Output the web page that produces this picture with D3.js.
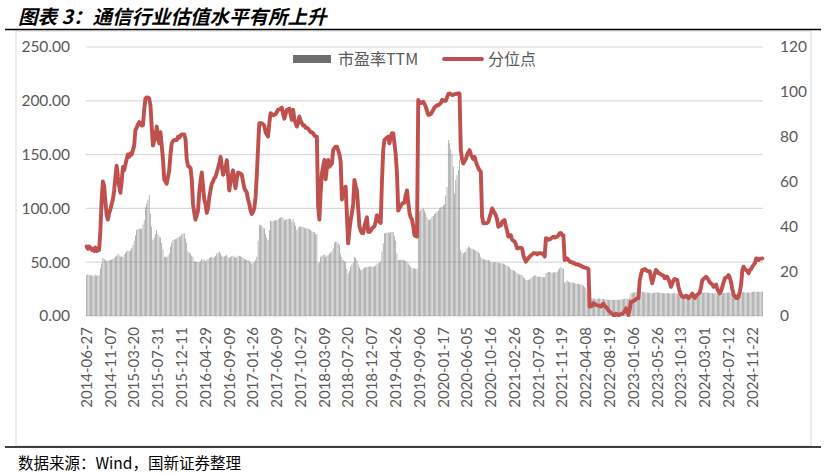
<!DOCTYPE html>
<html><head><meta charset="utf-8">
<script src="https://cdn.jsdelivr.net/npm/d3@7"></script>
<style>
html,body{margin:0;padding:0;background:#fff;}
svg{display:block;}
</style></head>
<body>
<svg id="chart" width="827" height="475"></svg>
<script>
const titleText = "图表 3：通信行业估值水平有所上升";
const sourceText = "数据来源：Wind，国新证券整理";
const seriesNames = ["市盈率TTM", "分位点"];
const tickLabels = ["2014-06-27","2014-11-07","2015-03-20","2015-07-31","2015-12-11","2016-04-29","2016-09-09","2017-01-26","2017-06-09","2017-10-27","2018-03-09","2018-07-20","2018-12-07","2019-04-26","2019-09-06","2020-01-17","2020-06-05","2020-10-16","2021-02-26","2021-07-09","2021-11-19","2022-04-08","2022-08-19","2023-01-06","2023-05-26","2023-10-13","2024-03-01","2024-07-12","2024-11-22"];
const tickEvery = 19;
const leftTicks = [0,50,100,150,200,250];
const rightTicks = [0,20,40,60,80,100,120];

// weekly PE TTM (left axis)
const peValues = [
38,39,38,38,37.5,38,37,38.5,37.5,37.8,38,44,
49,54,53,52,51,51,52,52,52.5,53,54,55,
56,58,56.5,55,56,55,57,58.5,60,61,60,61,
63,66,70,75,80,80.5,81.5,81.2,81,85,89,101,104.5,
108,112.5,95,83,71,73,76,80,76,73.7,73,68,
62,55,55,54.5,56,58,64.4,68,70.6,71,71.5,72,
73,73.7,74,76,76.5,77,72,68,60,59,58,56,
55,51,50.5,50.2,50,50,51,53,52.5,52,50.5,52,
53,54,54.5,55,54,55,56,58,59,60,58,56,
55,55.5,56,57,55,54,55,55.5,56,55,54,55,
56,55.8,55.5,55,54,53,52.5,52,52,51,50,48.6,49.3,
50,52,55,70,84.6,84.3,84,82,81.5,76,73,70.6,
80,89,88,88.5,88.8,89,89,90,91,91.5,92,91,
89,89.5,90,90.2,90.5,90,88,90,87,84,80,82,
83,83,82.8,82.5,82,81,82,81,80.5,80,79,78,
78,76,76,49,50,55,56,56.5,57,55,56,57,
58,59,60,63,68,69,69,67.5,66,58,55,52,51,
50,44,39.7,42,45.8,48,50,55,54,52,48,45,
43,42.8,44,45,45.2,45.5,45.8,46,46,46,46,46,
47,48,49,49.8,50.5,60,67.6,76.9,77,77.5,78,77,
78,78.3,78,74,70,58,52,52,52.2,52.5,52,52,
51,50.5,48.8,47,45.8,44.5,44.3,44,44,44,95.4,97,
98.5,99.2,100,98,95.4,92,89,89.5,90,92.3,93,95,96,
97,98,100,101,101.6,102.8,104,112,120,163.6,160.5,155,
150,138.8,114,126.4,131,135.7,145,61.3,59,58,59,60,
63,64.4,64,63,62.5,62,61.3,61,60,59,58,55,
53.6,53,52.5,52.2,52,52,51.5,50,50,50,50,50,
49.5,49.5,49.2,49,49,48.5,48,47.4,46.7,46,45,43.5,
42.8,42.4,42,41,39.7,39,38.5,38.2,38,36,35,33.5,
33.5,33.7,34,35,36,37,37.5,38,36.5,36.5,36.5,36.5,36.2,
36,36,40,40.5,41,40.8,40.5,40,41,40.5,40.7,41,
43,44.3,45.6,44,44,31,32,33,32,31.5,31.2,31,
31,30.5,30,30,30,29.5,29.5,29,28,27,25.7,22,
18,16.4,16.2,16,16.2,16,15.8,16,16.2,16.4,16,15.8,
16,15.5,15.3,15.2,15,15,15,15.1,15.2,15,15.1,15,
15,15.1,15.2,15.4,15.6,16,16.2,15.8,15.5,17,21,21.5,21.7,
22,22.4,22.6,22.8,22.6,22.6,22.5,22.4,22,22,21.8,21.6,
21.5,21.2,21,21.5,21.8,22,22,21.8,21.6,21.4,21.3,21.2,
21,21.2,21.5,21.2,21,20.8,21,21.2,21.3,21.1,21,20.5,
20.5,20.4,20.2,20.2,20.3,20.5,20.4,20.2,20.3,20.5,20.6,20.5,
20.3,20.5,20.6,20.6,20.8,21.2,21.6,21.8,21.9,22,21.8,21.6,
21.4,21.3,21.2,21,21,21.2,20.8,20.6,20.5,20.8,21,21.4,
21.6,21.7,21.8,22,21.8,21.4,21,20.6,20.5,20.4,20.5,20.6,21,
21.5,22,22.2,22,21.9,21.8,21.8,22,22.2,22.4,22.5,22.6,
22.6,22.4,22.5,22.6,22.6,22.6
];

// weekly percentile (right axis)
const pctValues = [
31,30,31,30.5,29.5,30,29,30.5,29,29.2,29.5,38,
52,60,58,51,45,43,46,47.5,50,52,56,62,
67,62,58,55,60,66.5,65,67.5,70,72,71,72.5,
72,74,76,83,84,85.5,86.5,86,85,85,92,97,97.5,
97.5,97,94,84.5,76,78,80,84.5,80,77,82,76,
70,61,60,59,62,65,72,77,78,78.5,78.5,78.5,
80,79.5,80.5,81,81,81,79,70,67,66.5,66,61,
50,46,43,45,47,55,60,64,58,52,50,46,
48,53,56,59,60,61.5,62,64,66,68,71,67,
63,64.5,66,69.5,63,56,60,62.5,65,60,57,61,
64,63.8,63.5,63,60,57,56,55,52,50,47,45.5,46.5,
48,53,63,75,86,86,86,85.5,85,82,81,80,
86,90.5,90,89.5,89.8,90,91,92,92.2,92.5,93,90,
88,90,92,92.2,92.5,90,87.5,92,88,86,84.5,86,
89,87,86,85,85,84,84,83.5,82.8,82,82,81.5,
80.5,80,80,49,43,55,63.6,66.5,69.6,61,66,69.6,
66.6,67.3,68,74,75,75.5,75.5,74,72,69,52,55,56.3,
57.7,45,32.4,38,42.8,46,50,60.7,58,56,48,40,
38,37,37,40,42,44,37.6,37.5,38,39,39.5,40,
42,45,43,42,41.5,60,74,78.5,79,79.5,80,77,
80,81.5,81.5,77,72,63.6,47,48,49,50,50.5,50.5,
54,56,51,46,44,43,40,36,35.7,35.4,96.4,95.5,
95,95.3,95.6,94.5,93.4,91.5,89.7,89.8,90,91,92,93,93.5,
94,94,94.5,95,96.4,96.2,96,96,97.5,99,99.3,99,
98.6,98.6,99,99,99.2,99.3,99.3,74,70,68,69,70,
71.8,73,74,72,71,70,71,69,67.4,66,65,64.4,
44.3,41.4,41.4,41.4,41.5,42,44,45.8,48,47,46,45,
43,39.8,40.2,40.5,42,42.5,42.8,40,38,35.4,36,36,
34,33.6,33.2,32,30.2,30.2,30.5,30.4,30.2,27,25.5,24.2,
25,25.8,26.5,27,27.5,28,28,28,27.5,28,28,28,27.8,
27.5,26.5,34.7,34.5,34,34.2,34.5,35,35.4,35,35.2,35.4,
36,36.9,37,36,36,25,25.5,25.7,25,24.2,24.1,24,
23.5,23.5,23,23,23,22.5,22.5,22,21.8,21.6,21.5,21.3,
21,4.2,4.3,4.5,5.7,5.5,5,4.8,4.6,4.5,4.2,5,
5.5,4.5,4,3.4,2.5,1.9,1.4,1,0.4,0.4,1,0.8,
0.4,0.6,0.8,1,1.5,2,3.4,2,0.4,3,6.4,6.5,6.8,
7,7.5,7.9,8,16,18.5,20.5,20.5,21,20.5,20,20,
20,17,14.6,17,19,20.5,20,19,19,18.5,18.2,18,
16.8,17.5,17.5,16.2,15,13,14.5,16,16.5,16.2,16,13,
10.8,9.5,8.6,8.5,8.5,9,8.5,7.9,8.5,9,10,9,
8,9,9.5,10,10.5,13,16,16.5,17,17.5,17,16,
15,14.5,14,13,13.5,14,12,11,10.1,11,13,15,
16.8,17.2,17.5,18.3,17,15,12,9.4,9,8,8,8.5,11,
14,20.5,22,21,20.5,20,19,20.5,21,22,22.8,23.5,
25.7,25.5,25,25.5,25.6,25.7
];

const N = peValues.length;
const idx = d3.range(N);
const tickIdx = tickLabels.map((d,k)=>k*tickEvery);

const svg = d3.select("#chart");
const plot = {left:86, right:763, top:47, bottom:316};
const numFont = "Lato, 'Open Sans', sans-serif";
const cjkFont = "'Noto Sans CJK SC', sans-serif";
const textGrey = "#595959";

// frame
svg.append("rect").attr("x",16).attr("y",31).attr("width",795).attr("height",415)
  .attr("fill","none").attr("stroke","#d9d9d9").attr("stroke-width",1);

// title
svg.append("text").attr("x",18).attr("y",23.5)
  .attr("font-family",cjkFont).attr("font-size",19.5).attr("font-weight","bold")
  .attr("font-style","italic").attr("fill","#000").text(titleText);
svg.append("line").attr("x1",5).attr("x2",821).attr("y1",29.5).attr("y2",29.5)
  .attr("stroke","#000").attr("stroke-width",1.3);

// bottom line & source
svg.append("line").attr("x1",5).attr("x2",821).attr("y1",447).attr("y2",447)
  .attr("stroke","#000").attr("stroke-width",1.3);
svg.append("text").attr("x",18).attr("y",469)
  .attr("font-family",cjkFont).attr("font-size",15.5).attr("fill","#000").text(sourceText);

// scales
const x = d3.scaleBand().domain(idx).range([plot.left, plot.right]).padding(0);
const xc = i => x(i) + x.bandwidth()/2;
const yL = d3.scaleLinear().domain([0,250]).range([plot.bottom, plot.top]);
const yR = d3.scaleLinear().domain([0,120]).range([plot.bottom, plot.top]);

// gridlines
svg.append("g").selectAll("line").data(leftTicks).join("line")
  .attr("x1",plot.left).attr("x2",plot.right)
  .attr("y1",d=>yL(d)).attr("y2",d=>yL(d))
  .attr("stroke","#d9d9d9").attr("stroke-width",1.2);

// bars
const bw = x.bandwidth()*0.5;
svg.append("g").selectAll("rect").data(idx).join("rect")
  .attr("x", i => xc(i) - bw/2)
  .attr("width", bw)
  .attr("y", i => yL(peValues[i]))
  .attr("height", i => yL(0) - yL(peValues[i]))
  .attr("fill", "#8a8a8a");

// line
const line = d3.line().x(i=>xc(i)).y(i=>yR(pctValues[i]));
svg.append("path").datum(idx).attr("d",line)
  .attr("fill","none").attr("stroke","#c0504d").attr("stroke-width",3.9)
  .attr("stroke-linejoin","round").attr("stroke-linecap","round");

// left axis
const gL = svg.append("g").attr("transform",`translate(${plot.left},0)`)
  .call(d3.axisLeft(yL).tickValues(leftTicks).tickFormat(d3.format(".2f")).tickSize(0).tickPadding(16));
gL.select(".domain").remove();
gL.selectAll("text").attr("font-family",numFont).attr("font-size",15.5).attr("fill",textGrey);

// right axis
const gR = svg.append("g").attr("transform",`translate(${plot.right},0)`)
  .call(d3.axisRight(yR).tickValues(rightTicks).tickSize(0).tickPadding(17));
gR.select(".domain").remove();
gR.selectAll("text").attr("font-family",numFont).attr("font-size",15.5).attr("fill",textGrey);

// bottom axis
const gB = svg.append("g").attr("transform",`translate(0,${plot.bottom})`)
  .call(d3.axisBottom(x).tickValues(tickIdx).tickFormat((d,k)=>tickLabels[k]).tickSize(0));
gB.select(".domain").remove();
gB.selectAll("text")
  .attr("font-family",numFont).attr("font-size",15).attr("fill",textGrey)
  .attr("transform","rotate(-90)").attr("text-anchor","end")
  .attr("x",-11).attr("y",0).attr("dy","0.35em");

// legend
const lg = svg.append("g");
lg.append("rect").attr("x",293).attr("y",55).attr("width",38).attr("height",8).attr("fill","#6f6f6f");
lg.append("text").attr("x",338).attr("y",65).attr("font-family",cjkFont).attr("font-size",16)
  .attr("fill",textGrey).text(seriesNames[0]);
lg.append("line").attr("x1",444).attr("x2",482).attr("y1",59).attr("y2",59)
  .attr("stroke","#c0504d").attr("stroke-width",3.9).attr("stroke-linecap","round");
lg.append("text").attr("x",488).attr("y",65).attr("font-family",cjkFont).attr("font-size",16)
  .attr("fill",textGrey).text(seriesNames[1]);
</script>
</body></html>
